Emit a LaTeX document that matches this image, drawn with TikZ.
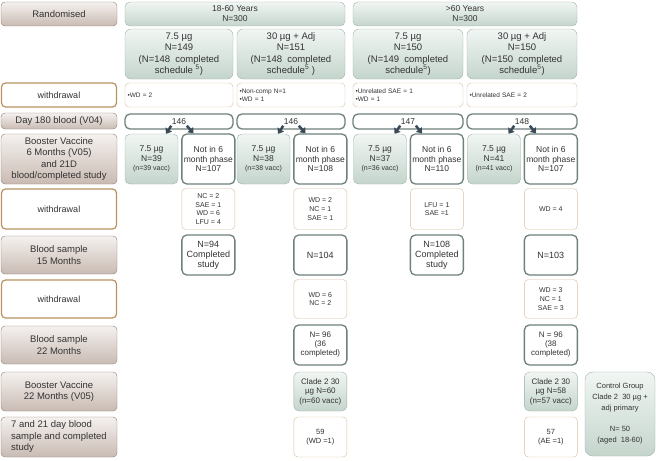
\documentclass[tikz,border=0pt]{standalone}
\usepackage{fontspec}
\setmainfont{Liberation Sans}
\usepackage{tikz}
\usetikzlibrary{positioning, arrows.meta}
\usepackage{xcolor}
\definecolor{lbltop}{HTML}{F5F1EF}
\definecolor{lblbot}{HTML}{C9BBB3}
\definecolor{lbldraw}{HTML}{8E7C72}
\definecolor{wdldraw}{HTML}{B9925F}
\definecolor{grntop}{HTML}{F1F6F3}
\definecolor{grnbot}{HTML}{C4D5CC}
\definecolor{grndraw}{HTML}{9DB2A8}
\definecolor{wdraw}{HTML}{6E817B}
\definecolor{notedraw}{HTML}{D9BE9E}
\definecolor{arrcol}{HTML}{3A4A56}
\definecolor{txt}{HTML}{333333}
\tikzset{
  lbl/.style={rectangle, rounded corners=4pt, draw=lbldraw, top color=lbltop,
              bottom color=lblbot, minimum width=116pt, inner sep=1pt,
              align=center, font=\fontsize{9.5}{11.5}\selectfont},
  wdl/.style={rectangle, rounded corners=4pt, draw=wdldraw, line width=1.2pt,
              fill=white, minimum width=115pt, inner sep=1pt,
              align=center, font=\fontsize{9}{11}\selectfont},
  grp/.style={rectangle, rounded corners=6pt, draw=grndraw, top color=grntop,
              bottom color=grnbot, inner sep=1pt, align=center,
              font=\fontsize{9.5}{11.5}\selectfont},
  kid/.style={rectangle, rounded corners=5pt, draw=grndraw, top color=grntop,
              bottom color=grnbot, minimum width=53pt, inner sep=1pt,
              align=center, font=\fontsize{8.5}{9.5}\selectfont},
  wbox/.style={rectangle, rounded corners=5pt, draw=wdraw, line width=1.3pt,
               fill=white, minimum width=53pt, inner sep=1pt,
               align=center, font=\fontsize{8.5}{9.5}\selectfont},
  note/.style={rectangle, rounded corners=4pt, draw=notedraw, fill=white,
               minimum width=53pt, inner sep=1pt, align=center,
               font=\fontsize{7}{8.7}\selectfont},
  blt/.style={note, text width=103pt, inner xsep=2.5pt, align=left,
              font=\fontsize{6.5}{8}\selectfont},
  num/.style={inner sep=0.5pt, font=\fontsize{8.5}{9}\selectfont},
  arr/.style={-{Triangle[width=7.5pt,length=5pt]}, line width=2.5pt, color=arrcol},
}
\newcommand{\vacc}[1]{{\fontsize{7}{8}\selectfont #1}}

\begin{document}
\begin{tikzpicture}[x=1pt, y=-1pt, every node/.style={text=txt}]
    \useasboundingbox (0,0) rectangle (660,460);
    % row labels
    \node[lbl, minimum height=24pt] (rand) at (59,14) {Randomised};
    \node[wdl, minimum height=24pt] (wd1) at (59,95) {withdrawal};
    \node[lbl, minimum height=16pt] (d180) at (59,121) {Day 180 blood (V04)};
    \node[lbl, minimum height=50pt] (boost6) at (59,159)
          {Booster Vaccine\\6 Months (V05)\\and 21D\\blood/completed study};
    \node[wdl, minimum height=40pt] (wd2) at (59,209) {withdrawal};
    \node[lbl, minimum height=38pt] (bs15) at (59,255) {Blood sample\\15 Months};
    \node[wdl, minimum height=38pt] (wd3) at (59,299) {withdrawal};
    \node[lbl, minimum height=38pt] (bs22) at (59,345) {Blood sample\\22 Months};
    \node[lbl, minimum height=39pt] (boost22) at (59,391.5) {Booster Vaccine\\22 Months (V05)};
    \node[lbl, minimum height=40pt, align=left] (fin) at (59,437)
          {7 and 21 day blood\\sample and completed\\study};

    % age groups
    \node[grp, rounded corners=5pt, minimum width=220pt, minimum height=24pt,
          font=\fontsize{8.5}{10}\selectfont] (young) at (235,14) {18-60 Years\\N=300};
    \node[grp, rounded corners=5pt, minimum width=224pt, minimum height=24pt,
          font=\fontsize{8.5}{10}\selectfont] (old) at (465,14) {>60 Years\\N=300};

    % dose groups
    \node[grp, minimum width=108pt, minimum height=50pt] (y7) at (179,54)
          {7.5 µg\\N=149\\(N=148\ \ completed\\schedule \textsuperscript{5})};
    \node[grp, minimum width=108pt, minimum height=50pt] (y30) at (291,54)
          {30 µg + Adj\\N=151\\(N=148\ \ completed\\schedule\textsuperscript{5} )};
    \node[grp, minimum width=110pt, minimum height=50pt] (o7) at (408,54)
          {7.5 µg\\N=150\\(N=149\ \ completed\\schedule\textsuperscript{5})};
    \node[grp, minimum width=110pt, minimum height=50pt] (o30) at (522,54)
          {30 µg + Adj\\N=150\\(N=150\ \ completed\\schedule\textsuperscript{5})};

    % first withdrawal
    \node[blt, minimum height=24pt] (y7wd) at (179,95) {•WD = 2};
    \node[blt, minimum height=24pt] (y30wd) at (291,95) {•Non-comp N=1\\•WD = 1};
    \node[blt, text width=105pt, minimum height=24pt] (o7wd) at (408,95)
          {•Unrelated SAE = 1\\•WD = 1};
    \node[blt, text width=105pt, minimum height=24pt] (o30wd) at (522,95)
          {•Unrelated SAE = 2};

    % day 180 blood
    \node[wbox, minimum width=108pt, minimum height=15pt] (y7d) at (179,121.5) {};
    \node[wbox, minimum width=108pt, minimum height=15pt] (y30d) at (291,121.5) {};
    \node[wbox, minimum width=110pt, minimum height=15pt] (o7d) at (408,121.5) {};
    \node[wbox, minimum width=110pt, minimum height=15pt] (o30d) at (522,121.5) {};
    \node[num] (y7n) at (179,122) {146};
    \node[num] (y30n) at (291,122) {146};
    \node[num] (o7n) at (408,122) {147};
    \node[num] (o30n) at (522,122) {148};

    % booster at 6 months
    \node[kid, minimum height=50pt] (y7a) at (151.5,159) {7.5 µg\\N=39\\\vacc{(n=39 vacc)}};
    \node[wbox, minimum height=50pt, right=3pt of y7a] (y7b) {Not in 6\\month phase\\N=107};
    \node[kid, minimum height=50pt] (y30a) at (263.5,159) {7.5 µg\\N=38\\\vacc{(n=38 vacc)}};
    \node[wbox, minimum height=50pt, right=3pt of y30a] (y30b) {Not in 6\\month phase\\N=108};
    \node[kid, minimum height=50pt] (o7a) at (380,159) {7.5 µg\\N=37\\\vacc{(n=36 vacc)}};
    \node[wbox, minimum height=50pt, right=3pt of o7a] (o7b) {Not in 6\\month phase\\N=110};
    \node[kid, minimum height=50pt] (o30a) at (494,159) {7.5 µg\\N=41\\\vacc{(n=41 vacc)}};
    \node[wbox, minimum height=50pt, right=3pt of o30a] (o30b) {Not in 6\\month phase\\N=107};
    \draw[arr] (y7n.south west)--(y7a.60); \draw[arr] (y7n.south east)--(y7b.120);
    \draw[arr] (y30n.south west)--(y30a.60); \draw[arr] (y30n.south east)--(y30b.120);
    \draw[arr] (o7n.south west)--(o7a.60); \draw[arr] (o7n.south east)--(o7b.120);
    \draw[arr] (o30n.south west)--(o30a.60); \draw[arr] (o30n.south east)--(o30b.120);

    % second withdrawal
    \node[note, minimum height=41pt] (y7w2) at (y7b |- wd2) {NC = 2\\SAE = 1\\WD = 6\\LFU = 4};
    \node[note, minimum height=41pt] (y30w2) at (y30b |- wd2) {WD = 2\\NC = 1\\SAE = 1};
    \node[note, minimum height=41pt] (o7w2) at (o7b |- wd2) {LFU = 1\\SAE =1};
    \node[note, minimum height=41pt] (o30w2) at (o30b |- wd2) {WD = 4};

    % blood sample 15 months
    \node[wbox, minimum height=40pt, font=\fontsize{9}{10}\selectfont] (y7s15) at (y7b |- bs15)
          {N=94\\Completed\\study};
    \node[wbox, minimum height=40pt, font=\fontsize{9}{10}\selectfont] (y30s15) at (y30b |- bs15) {N=104};
    \node[wbox, minimum height=40pt, font=\fontsize{9}{10}\selectfont] (o7s15) at (o7b |- bs15)
          {N=108\\Completed\\study};
    \node[wbox, minimum height=40pt, font=\fontsize{9}{10}\selectfont] (o30s15) at (o30b |- bs15) {N=103};

    % third withdrawal
    \node[note, minimum height=39pt] (y30w3) at (y30b |- wd3) {WD = 6\\NC = 2};
    \node[note, minimum height=39pt] (o30w3) at (o30b |- wd3) {WD = 3\\NC = 1\\SAE = 3};

    % blood sample 22 months
    \node[wbox, minimum height=40pt, font=\fontsize{8}{9}\selectfont] (y30s22) at (y30b |- bs22)
          {N= 96\\(36\\completed)};
    \node[wbox, minimum height=40pt, font=\fontsize{8}{9}\selectfont] (o30s22) at (o30b |- bs22)
          {N = 96\\(38\\completed)};

    % booster at 22 months
    \node[kid, minimum height=39pt, font=\fontsize{8}{9.5}\selectfont] (y30v) at (y30b |- boost22)
          {Clade 2 30\\µg N=60\\(n=60 vacc)};
    \node[kid, minimum height=39pt, font=\fontsize{8}{9.5}\selectfont] (o30v) at (o30b |- boost22)
          {Clade 2 30\\µg N=58\\(n=57 vacc)};
    \node[grp, rounded corners=8pt, minimum width=70pt, minimum height=84pt,
          font=\fontsize{7.5}{11}\selectfont] (ctrl) at (620,414)
          {Control Group\\Clade 2\ \ 30 µg +\\adj primary\\[10pt]N= 50\\(aged\ \ 18-60)};

    % 7 and 21 day
    \node[note, minimum height=40pt, font=\fontsize{7.5}{9}\selectfont] (y30f) at (y30b |- fin) {59\\(WD =1)};
    \node[note, minimum height=40pt, font=\fontsize{7.5}{9}\selectfont] (o30f) at (o30b |- fin) {57\\(AE =1)};
  \end{tikzpicture}
\end{document}
